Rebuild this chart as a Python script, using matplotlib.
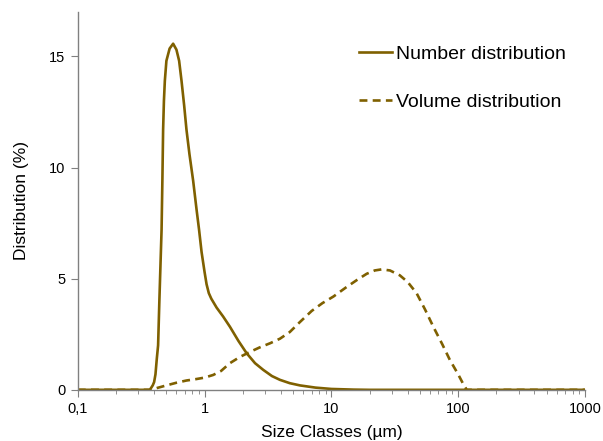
import matplotlib.pyplot as plt
from matplotlib.ticker import FixedLocator, LogLocator, NullFormatter

plt.rcParams['font.family'] = ['Liberation Sans', 'DejaVu Sans']

color = '#7F6000'

# number distribution (size in um, %)
num_size = [0.1, 0.2, 0.3, 0.37, 0.38, 0.39, 0.40, 0.41, 0.42, 0.43, 0.44, 0.45,
            0.458, 0.465, 0.471, 0.478, 0.486, 0.50, 0.53, 0.565, 0.60, 0.63,
            0.658, 0.69, 0.72, 0.76, 0.813, 0.865, 0.905, 0.947, 1.0, 1.037,
            1.08, 1.13, 1.244, 1.4, 1.584, 1.85, 2.145, 2.5, 2.9, 3.4, 3.93, 4.7,
            5.65, 7.5, 10, 15, 20, 100, 1000]
num_dist = [0, 0, 0, 0, 0.1, 0.2, 0.35, 0.7, 1.4, 2.0, 4.0, 5.8,
            7.2, 9.5, 11.7, 13.0, 13.9, 14.8, 15.35, 15.57, 15.3, 14.8,
            13.9, 12.8, 11.7, 10.6, 9.4, 8.1, 7.2, 6.2, 5.3, 4.75,
            4.35, 4.1, 3.7, 3.3, 2.84, 2.2, 1.65, 1.2, 0.9, 0.62, 0.45, 0.3,
            0.2, 0.1, 0.04, 0.01, 0, 0, 0]

# volume distribution (size in um, %)
vol_size = [0.1, 0.2, 0.3, 0.38, 0.42, 0.5, 0.6, 0.72, 0.85, 1.0, 1.17, 1.35,
            1.584, 1.9, 2.27, 2.7, 3.3, 3.93, 4.7, 5.65, 7, 8.5, 10.4, 13, 16,
            19, 22, 25, 29, 34.7, 40, 47, 55, 63.7, 75, 86, 100, 110, 117,
            200, 1000]
vol_dist = [0, 0, 0, 0, 0.08, 0.2, 0.32, 0.42, 0.48, 0.55, 0.67, 0.85,
            1.2, 1.48, 1.7, 1.9, 2.1, 2.3, 2.6, 3.05, 3.55, 3.9, 4.2, 4.6, 4.95,
            5.22, 5.37, 5.42, 5.37, 5.15, 4.85, 4.35, 3.6, 2.84, 2.05, 1.35, 0.7,
            0.25, 0, 0, 0]

x_ticks = [0.1, 1, 10, 100, 1000]
x_labels = ['0,1', '1', '10', '100', '1000']
y_ticks = [0, 5, 10, 15]

fig = plt.figure(figsize=(6.03, 4.41), dpi=100)
ax = fig.add_axes([0.129, 0.116, 0.841, 0.857])

ax.plot(num_size, num_dist, color=color, lw=1.9, label='Number distribution')
ax.plot(vol_size, vol_dist, color=color, lw=1.9, ls=(0, (3, 2)),
        label='Volume distribution')

ax.set_xscale('log')
ax.set_xlim(0.1, 1000)
ax.set_ylim(0, 17)
ax.xaxis.set_major_locator(FixedLocator(x_ticks))
ax.set_xticklabels(x_labels)
ax.xaxis.set_minor_locator(LogLocator(base=10, subs=range(2, 10)))
ax.xaxis.set_minor_formatter(NullFormatter())
ax.set_yticks(y_ticks)

for s in ['top', 'right']:
    ax.spines[s].set_visible(False)
for s in ['left', 'bottom']:
    ax.spines[s].set_color('#808080')
    ax.spines[s].set_linewidth(1.0)
ax.tick_params(axis='both', which='major', direction='out', length=5,
               color='#808080', labelsize=10.5, pad=4)
ax.tick_params(axis='x', which='minor', direction='out', length=3,
               color='#808080')

ax.set_xlabel('Size Classes (µm)', fontsize=12.5, labelpad=6)
ax.set_ylabel('Distribution (%)', fontsize=12.5, labelpad=14)

ax.legend(loc='upper left', bbox_to_anchor=(0.521, 0.957), frameon=False,
          fontsize=14, handlelength=1.65, handletextpad=0.25, labelspacing=1.55)

fig.savefig('out.png', dpi=100)
